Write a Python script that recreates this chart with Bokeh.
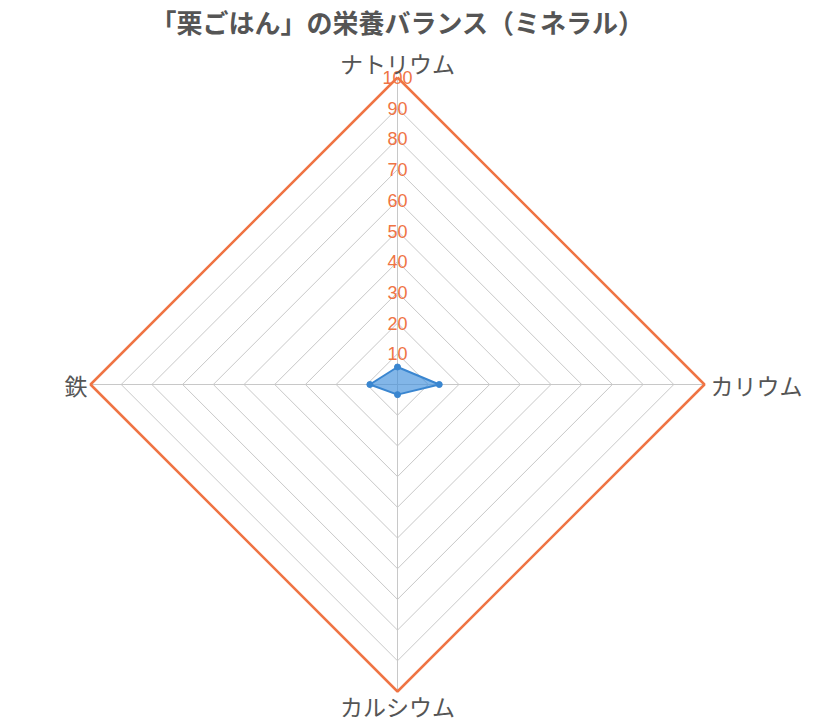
from bokeh.plotting import figure
from bokeh.models import Range1d
from bokeh.core.properties import value
from bokeh.embed import file_html
from bokeh.resources import INLINE
import math

title = "「栗ごはん」の栄養バランス（ミネラル）"
categories = ["ナトリウム", "カリウム", "カルシウム", "鉄"]
values = [5.7, 13.6, 3.3, 9.0]
ticks = [10, 20, 30, 40, 50, 60, 70, 80, 90, 100]
tick_labels = ["10", "20", "30", "40", "50", "60", "70", "80", "90", "100"]
max_val = 100

W, H = 815, 724
cx, cy = 397, 384
R = 307.0
s = R / max_val  # px per unit

p = figure(width=W, height=H, output_backend="svg", toolbar_location=None,
           x_range=Range1d(-cx / s, (W - cx) / s), y_range=Range1d(-(H - cy) / s, cy / s),
           min_border=0)
p.axis.visible = False
p.grid.visible = False
p.outline_line_color = None
p.background_fill_color = "white"

n = len(categories)
angles = [math.pi / 2 - 2 * math.pi * i / n for i in range(n)]

def poly(r):
    xs = [r * math.cos(a) for a in angles]
    ys = [r * math.sin(a) for a in angles]
    return xs + [xs[0]], ys + [ys[0]]

# grid rings
for t in ticks[:-1]:
    xs, ys = poly(t)
    p.line(xs, ys, line_color="#c8c8c8", line_width=1)
# spokes
for a in angles:
    p.line([0, max_val * math.cos(a)], [0, max_val * math.sin(a)], line_color="#c8c8c8", line_width=1)
# outer ring
xs, ys = poly(max_val)
p.line(xs, ys, line_color="#ef7444", line_width=2.5)

# data
dx = [v * math.cos(a) for v, a in zip(values, angles)]
dy = [v * math.sin(a) for v, a in zip(values, angles)]
p.patch(dx + [dx[0]], dy + [dy[0]], fill_color="#3f8fdc", fill_alpha=0.65,
        line_color="#3a86d0", line_width=2)
p.scatter(dx, dy, size=6, fill_color="#3a86d0", line_color="#3a86d0")

# tick labels
p.text(x=[0] * len(ticks), y=ticks, text=tick_labels, text_align="center", text_baseline="middle",
       text_color="#ef7444", text_font_size="18px", text_font=value("Liberation Sans"))

# category labels
lab_x = [0, (max_val * s + 6) / s, 0, -(max_val * s + 3) / s]
lab_y = [(max_val * s + 15) / s, 0, -(max_val * s + 14) / s, 0]
aligns = ["center", "left", "center", "right"]
for c, x, y, al in zip(categories, lab_x, lab_y, aligns):
    p.text(x=[x], y=[y], text=[c], text_align=al, text_baseline="middle",
           text_color="#555555", text_font_size="23px", text_font=value("Noto Sans CJK JP"))

# title
p.text(x=[0], y=[(cy - 21) / s], text=[title], text_align="center", text_baseline="middle",
       text_color="#555555", text_font_size="26px", text_font_style="bold",
       text_font=value("Noto Sans CJK JP"))

open("out.html", "w").write(file_html(p, INLINE))
